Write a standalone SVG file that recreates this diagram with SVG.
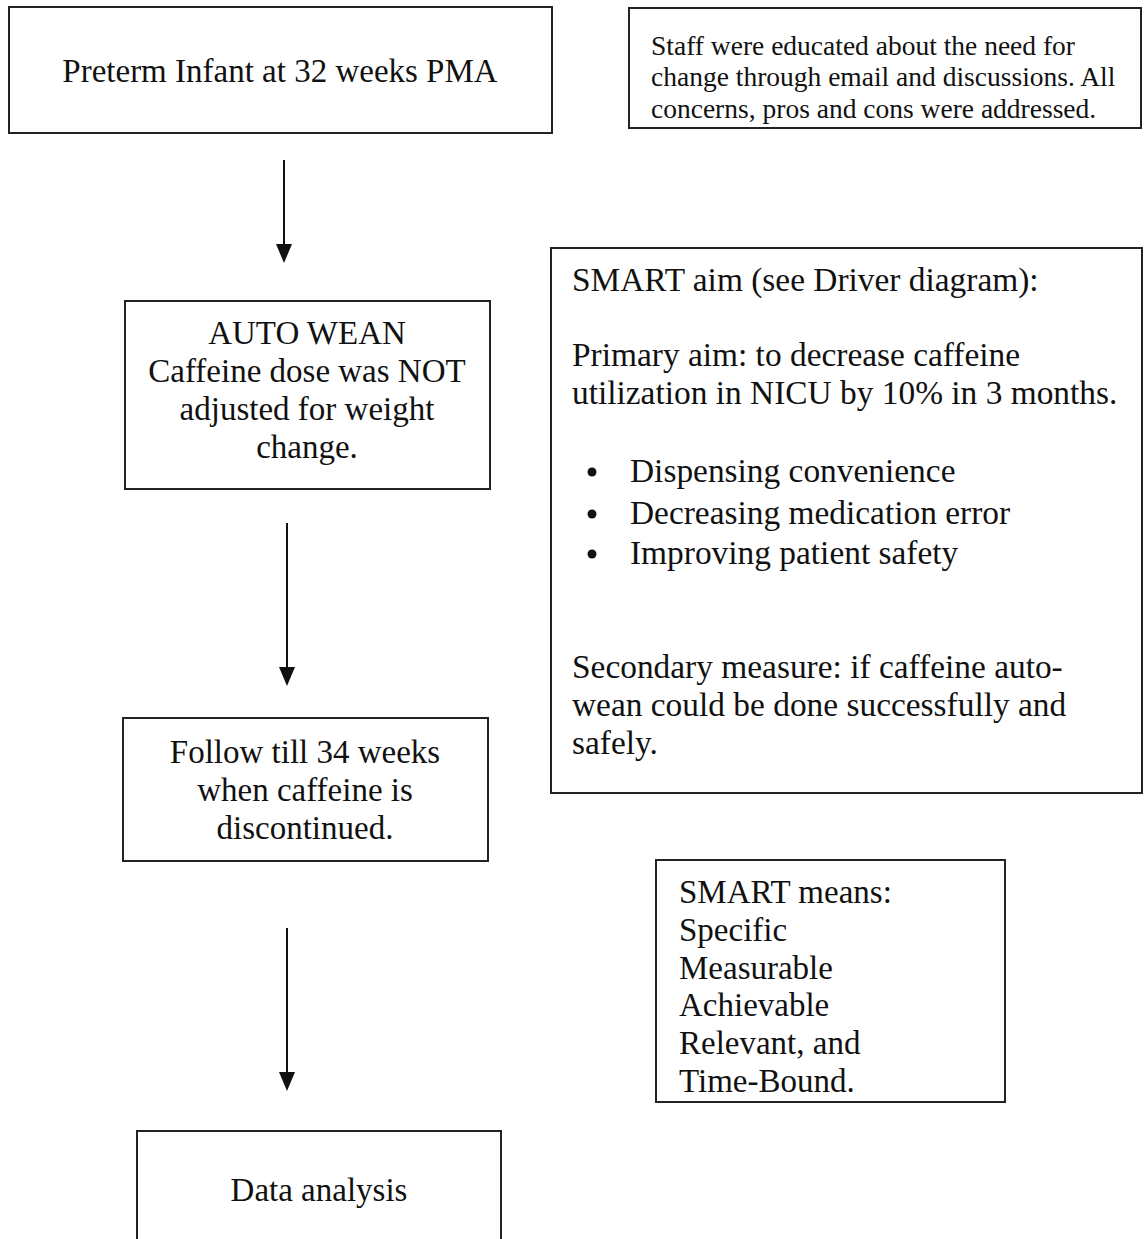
<svg xmlns="http://www.w3.org/2000/svg" width="1144" height="1239" viewBox="0 0 1144 1239">
<style>
.box{fill:#fff;stroke:#222;stroke-width:2}
.t{font-family:"Liberation Serif","Times New Roman",serif;font-size:33px;fill:#111}
.a{font-size:33.4px}
.s{font-family:"Liberation Serif","Times New Roman",serif;font-size:27.5px;fill:#111}
.c{text-anchor:middle}
.conn{stroke:#111;stroke-width:2;fill:none}
.head{fill:#111}
</style>
<rect width="1144" height="1239" fill="#fff"/>
<g id="connectors">
<line class="conn" x1="284" y1="160" x2="284" y2="244"/>
<path class="head" d="M276,244 L292,244 L284,263 Z"/>
<line class="conn" x1="287" y1="523" x2="287" y2="667"/>
<path class="head" d="M279,667 L295,667 L287,686 Z"/>
<line class="conn" x1="287" y1="928" x2="287" y2="1072"/>
<path class="head" d="M279,1072 L295,1072 L287,1091 Z"/>
</g>
<g id="node-preterm">
<rect class="box" x="9" y="7" width="543" height="126"/>
<text class="t c" x="280" y="82">Preterm Infant at 32 weeks PMA</text>
</g>
<g id="node-staff">
<rect class="box" x="629" y="8" width="512" height="120"/>
<text class="s" x="651" y="55">Staff were educated about the need for</text>
<text class="s" x="651" y="86">change through email and discussions. All</text>
<text class="s" x="651" y="118">concerns, pros and cons were addressed.</text>
</g>
<g id="node-autowean">
<rect class="box" x="125" y="301" width="365" height="188"/>
<text class="t c" x="307" y="344">AUTO WEAN</text>
<text class="t c" x="307" y="382">Caffeine dose was NOT</text>
<text class="t c" x="307" y="420">adjusted for weight</text>
<text class="t c" x="307" y="458">change.</text>
</g>
<g id="node-smart-aim">
<rect class="box" x="551" y="248" width="591" height="545"/>
<text class="t a" x="572" y="291">SMART aim (see Driver diagram):</text>
<text class="t a" x="572" y="366">Primary aim: to decrease caffeine</text>
<text class="t a" x="572" y="404">utilization in NICU by 10% in 3 months.</text>
<circle cx="592" cy="472" r="4.5" fill="#111"/>
<text class="t a" x="630" y="482">Dispensing convenience</text>
<circle cx="592" cy="514" r="4.5" fill="#111"/>
<text class="t a" x="630" y="524">Decreasing medication error</text>
<circle cx="592" cy="554" r="4.5" fill="#111"/>
<text class="t a" x="630" y="564">Improving patient safety</text>
<text class="t a" x="572" y="678">Secondary measure: if caffeine auto-</text>
<text class="t a" x="572" y="716">wean could be done successfully and</text>
<text class="t a" x="572" y="754">safely.</text>
</g>
<g id="node-follow">
<rect class="box" x="123" y="718" width="365" height="143"/>
<text class="t c" x="305" y="763">Follow till 34 weeks</text>
<text class="t c" x="305" y="801">when caffeine is</text>
<text class="t c" x="305" y="839">discontinued.</text>
</g>
<g id="node-smart-means">
<rect class="box" x="656" y="860" width="349" height="242"/>
<text class="t" x="679" y="903">SMART means:</text>
<text class="t" x="679" y="941">Specific</text>
<text class="t" x="679" y="979">Measurable</text>
<text class="t" x="679" y="1016">Achievable</text>
<text class="t" x="679" y="1054">Relevant, and</text>
<text class="t" x="679" y="1092">Time-Bound.</text>
</g>
<g id="node-data">
<rect class="box" x="137" y="1131" width="364" height="130"/>
<text class="t c" x="319" y="1201">Data analysis</text>
</g>
</svg>
